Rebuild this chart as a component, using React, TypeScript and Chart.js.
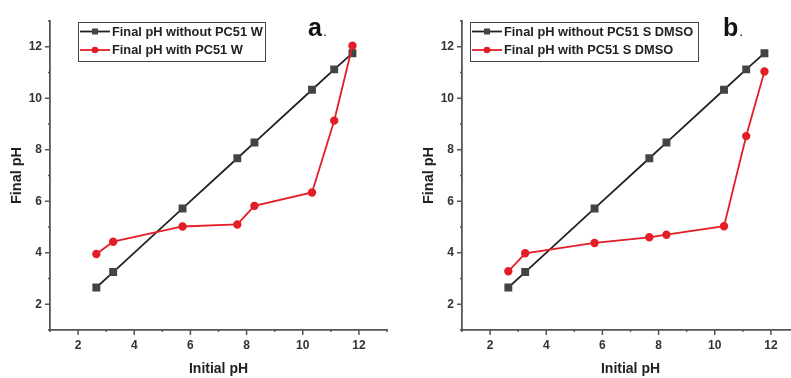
import React, { useEffect, useRef } from "react";
import { Chart, registerables } from "chart.js";
Chart.register(...registerables);

// ---- data ----
const initialPH = [2.65, 3.25, 5.72, 7.67, 8.28, 10.33, 11.12, 11.77];
const finalWithoutW = [2.65, 3.25, 5.72, 7.67, 8.28, 10.33, 11.12, 11.75];
const finalWithW = [3.95, 4.43, 5.02, 5.1, 5.82, 6.34, 9.13, 12.04];
const finalWithoutDMSO = [2.65, 3.25, 5.72, 7.67, 8.28, 10.33, 11.12, 11.75];
const finalWithDMSO = [3.28, 3.98, 4.38, 4.6, 4.7, 5.03, 8.53, 11.04];
const legendW = ["Final pH without PC51 W", "Final pH with PC51 W"];
const legendDMSO = ["Final pH without PC51 S DMSO", "Final pH with PC51 S DMSO"];
const axisMin = 1;
const axisMax = 13;
const xTitle = "Initial pH";
const yTitle = "Final pH";

const FONT = "'Liberation Sans', Arial, sans-serif";
const BLACK_LINE = "#222222";
const BLACK_MARK = "#444444";
const RED = "#e41e26";
const AXIS = "#555555";

type PanelProps = {
  without: number[];
  withVals: number[];
  labels: string[];
  letter: string;
  left: number;
  width: number;
  padLeft: number;
  legendX: number;
  legendW: number;
  letterX: number;
};

function Panel(p: PanelProps) {
  const ref = useRef<HTMLCanvasElement | null>(null);
  useEffect(() => {
    if (!ref.current) return;
    const toPts = (ys: number[]) => initialPH.map((x, i) => ({ x, y: ys[i] }));

    const ticksPlugin = {
      id: "minorMajorTicks",
      afterDraw(chart: any) {
        const { ctx, chartArea, scales } = chart;
        ctx.save();
        ctx.strokeStyle = AXIS;
        ctx.lineWidth = 1.5;
        for (let v = axisMin; v <= axisMax; v++) {
          const len = v % 2 === 0 ? 5 : 2;
          const px = scales.x.getPixelForValue(v);
          ctx.beginPath();
          ctx.moveTo(px, chartArea.bottom);
          ctx.lineTo(px, chartArea.bottom + len);
          ctx.stroke();
          const py = scales.y.getPixelForValue(v);
          ctx.beginPath();
          ctx.moveTo(chartArea.left, py);
          ctx.lineTo(chartArea.left - len, py);
          ctx.stroke();
        }
        ctx.restore();
      },
    };

    const legendPlugin = {
      id: "boxLegend",
      afterDraw(chart: any) {
        const { ctx } = chart;
        const bx = p.legendX;
        const by = 22;
        const bh = 39;
        ctx.save();
        ctx.strokeStyle = "#444";
        ctx.lineWidth = 1;
        ctx.strokeRect(bx + 0.5, by + 0.5, p.legendW, bh);
        const styles = [
          { line: BLACK_LINE, mark: BLACK_MARK, shape: "rect" },
          { line: RED, mark: RED, shape: "circle" },
        ];
        styles.forEach((s, i) => {
          const y = 31.5 + i * 18.5;
          ctx.strokeStyle = s.line;
          ctx.lineWidth = 1.8;
          ctx.beginPath();
          ctx.moveTo(bx + 2, y);
          ctx.lineTo(bx + 32, y);
          ctx.stroke();
          ctx.fillStyle = s.mark;
          if (s.shape === "rect") {
            ctx.fillRect(bx + 17 - 3, y - 3, 6, 6);
          } else {
            ctx.beginPath();
            ctx.arc(bx + 17, y, 3.3, 0, Math.PI * 2);
            ctx.fill();
          }
          ctx.fillStyle = "#222";
          ctx.font = `bold 12.8px ${FONT}`;
          ctx.textBaseline = "middle";
          ctx.textAlign = "left";
          ctx.fillText(p.labels[i], bx + 34, y + 0.5);
        });
        // panel letter
        ctx.fillStyle = "#111";
        ctx.font = `bold 25px ${FONT}`;
        ctx.textBaseline = "alphabetic";
        ctx.fillText(p.letter, p.letterX, 36);
        const w = ctx.measureText(p.letter).width;
        ctx.font = `14px ${FONT}`;
        ctx.fillText(".", p.letterX + w + 1, 36);
        ctx.restore();
      },
    };

    const chart = new Chart(ref.current, {
      type: "line",
      data: {
        datasets: [
          {
            label: p.labels[0],
            data: toPts(p.without),
            borderColor: BLACK_LINE,
            backgroundColor: BLACK_MARK,
            pointBackgroundColor: BLACK_MARK,
            pointBorderColor: BLACK_MARK,
            pointStyle: "rect",
            pointRadius: 4.3,
            borderWidth: 1.8,
            tension: 0,
            order: 1,
          },
          {
            label: p.labels[1],
            data: toPts(p.withVals),
            borderColor: RED,
            backgroundColor: RED,
            pointBackgroundColor: RED,
            pointBorderColor: RED,
            pointStyle: "circle",
            pointRadius: 3.3,
            borderWidth: 1.8,
            tension: 0,
            order: 0,
          },
        ],
      },
      options: {
        animation: false,
        responsive: false,
        maintainAspectRatio: false,
        layout: { padding: { top: 21, right: 8, left: p.padLeft, bottom: 0 } },
        plugins: {
          legend: { display: false },
          tooltip: { enabled: false },
        },
        scales: {
          x: {
            type: "linear",
            min: axisMin,
            max: axisMax,
            grid: { display: false, drawTicks: false },
            border: { display: true, color: AXIS, width: 1.8 },
            ticks: {
              stepSize: 1,
              autoSkip: false,
              maxRotation: 0,
              padding: 8,
              color: "#333",
              font: { family: FONT, size: 12, weight: "bold" },
              callback: (v: any) => (Number(v) % 2 === 0 ? String(v) : ""),
            },
            title: {
              display: true,
              text: xTitle,
              color: "#222",
              font: { family: FONT, size: 14, weight: "bold" },
              padding: { top: 0, bottom: 0 },
            },
            afterFit: (s: any) => {
              s.height = 48;
            },
          },
          y: {
            type: "linear",
            min: axisMin,
            max: axisMax,
            grid: { display: false, drawTicks: false },
            border: { display: true, color: AXIS, width: 1.8 },
            ticks: {
              stepSize: 1,
              autoSkip: false,
              padding: 8,
              color: "#333",
              font: { family: FONT, size: 12, weight: "bold" },
              callback: (v: any) => (Number(v) % 2 === 0 ? String(v) : ""),
            },
            title: {
              display: true,
              text: yTitle,
              color: "#222",
              font: { family: FONT, size: 14.5, weight: "bold" },
              padding: { top: 8, bottom: 0 },
            },
            afterFit: (s: any) => {
              s.width = 50;
            },
          },
        },
      } as any,
      plugins: [ticksPlugin, legendPlugin],
    });
    return () => chart.destroy();
  }, []);

  return (
    <canvas
      ref={ref}
      width={p.width}
      height={378}
      style={{ position: "absolute", left: p.left, top: 0, width: p.width, height: 378 }}
    />
  );
}

export default function App() {
  return (
    <div
      style={{
        position: "fixed",
        left: 0,
        top: 0,
        width: 791,
        height: 378,
        overflow: "hidden",
        background: "#ffffff",
      }}
    >
      <Panel
        without={finalWithoutW}
        withVals={finalWithW}
        labels={legendW}
        letter="a"
        left={0}
        width={395}
        padLeft={0}
        legendX={78}
        legendW={187}
        letterX={308}
      />
      <Panel
        without={finalWithoutDMSO}
        withVals={finalWithDMSO}
        labels={legendDMSO}
        letter="b"
        left={395}
        width={412}
        padLeft={17}
        legendX={75}
        legendW={228}
        letterX={328}
      />
    </div>
  );
}
